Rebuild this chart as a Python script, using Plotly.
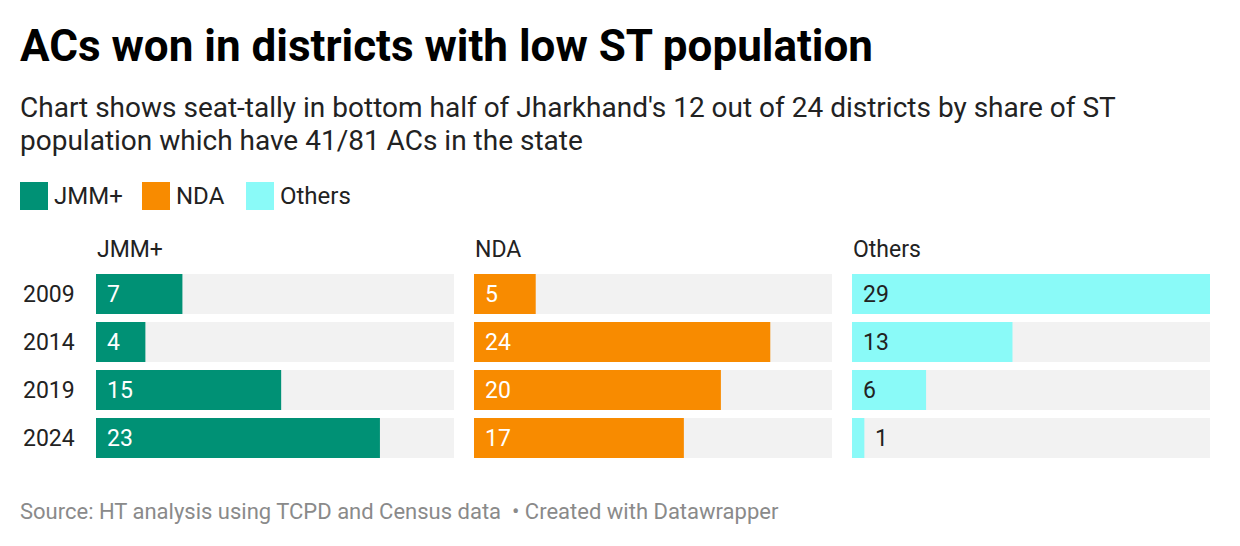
import plotly.graph_objects as go

# ---- data ----
years = ["2009", "2014", "2019", "2024"]
parties = ["JMM+", "NDA", "Others"]
jmm = [7, 4, 15, 23]
nda = [5, 24, 20, 17]
others = [29, 13, 6, 1]
series = [jmm, nda, others]
colors = ["#009175", "#f88b00", "#8afaf8"]
label_colors = ["#ffffff", "#ffffff", "#222222"]

title = "ACs won in districts with low ST population"
subtitle_lines = [
    "Chart shows seat-tally in bottom half of Jharkhand's 12 out of 24 districts by share of ST",
    "population which have 41/81 ACs in the state",
]
footer = "Source: HT analysis using TCPD and Census data  \u2022 Created with Datawrapper"

W, H = 1240, 546
FONT = "Roboto"
vmax = max(max(s) for s in series)
rows = list(range(len(years)))

def px_x(x):
    return x / W

def px_y(y):
    return 1 - y / H

panel_px = [(96, 454), (474, 832), (852, 1210)]
y_top, y_bot = 270, 462

fig = go.Figure()
layout_axes = {}
annotations = []
shapes = []

for i, (name, vals, col, lcol) in enumerate(zip(parties, series, colors, label_colors)):
    xa = "x" if i == 0 else f"x{i+1}"
    xkey = "xaxis" if i == 0 else f"xaxis{i+1}"
    fig.add_trace(go.Bar(
        x=[vmax] * len(years), y=rows, orientation="h",
        marker=dict(color="#f2f2f2", line=dict(width=0)),
        xaxis=xa, yaxis="y", hoverinfo="skip", showlegend=False, width=40 / 48,
    ))
    fig.add_trace(go.Bar(
        x=vals, y=rows, orientation="h", name=name,
        marker=dict(color=col, line=dict(width=0)),
        xaxis=xa, yaxis="y", showlegend=False, width=40 / 48,
        customdata=years, hovertemplate="%{customdata}: %{x}<extra>" + name + "</extra>",
    ))
    x0, x1 = panel_px[i]
    layout_axes[xkey] = dict(
        domain=[px_x(x0), px_x(x1)], range=[0, vmax], visible=False,
        fixedrange=True, anchor="y",
    )
    annotations.append(dict(
        text=name, xref="paper", yref="paper", x=px_x(x0 - 1), y=px_y(250),
        xanchor="left", yanchor="middle", showarrow=False,
        font=dict(family=FONT, size=23, color="#222222"),
    ))
    bar_px = (x1 - x0) / vmax
    for r, v in zip(rows, vals):
        inside = v * bar_px > 30
        annotations.append(dict(
            text=str(v), xref=xa, yref="y",
            x=0 if inside else v, y=r, xshift=9 if inside else 9,
            xanchor="left", yanchor="middle", showarrow=False,
            font=dict(family=FONT, size=23, color=lcol if inside else "#222222"),
        ))

for r, yr in zip(rows, years):
    annotations.append(dict(
        text=yr, xref="paper", yref="y", x=px_x(77), y=r,
        xanchor="right", yanchor="middle", showarrow=False,
        font=dict(family=FONT, size=23, color="#222222"),
    ))

annotations.append(dict(
    text="<b>" + title + "</b>", xref="paper", yref="paper", x=px_x(18), y=px_y(46),
    xanchor="left", yanchor="middle", showarrow=False,
    font=dict(family=FONT, size=44, color="#000000"),
))
for k, line in enumerate(subtitle_lines):
    annotations.append(dict(
        text=line, xref="paper", yref="paper", x=px_x(18), y=px_y(108 + 33 * k),
        xanchor="left", yanchor="middle", showarrow=False,
        font=dict(family=FONT, size=28, color="#222222"),
    ))

leg_x = [20, 142, 246]
for name, col, lx in zip(parties, colors, leg_x):
    shapes.append(dict(
        type="rect", xref="paper", yref="paper",
        x0=px_x(lx), x1=px_x(lx + 28), y0=px_y(210), y1=px_y(182),
        fillcolor=col, line=dict(width=0),
    ))
    annotations.append(dict(
        text=name, xref="paper", yref="paper", x=px_x(lx + 32), y=px_y(196),
        xanchor="left", yanchor="middle", showarrow=False,
        font=dict(family=FONT, size=24, color="#222222"),
    ))

annotations.append(dict(
    text=footer, xref="paper", yref="paper", x=px_x(18), y=px_y(511),
    xanchor="left", yanchor="middle", showarrow=False,
    font=dict(family=FONT, size=22, color="#8a8a8a"),
))

fig.update_layout(
    width=W, height=H,
    margin=dict(l=0, r=0, t=0, b=0),
    paper_bgcolor="white", plot_bgcolor="white",
    barmode="overlay",
    yaxis=dict(
        domain=[px_y(y_bot), px_y(y_top)], range=[len(years) - 0.5, -0.5],
        visible=False, fixedrange=True,
    ),
    annotations=annotations, shapes=shapes,
    showlegend=False,
    **layout_axes,
)

fig.write_html("out.html", config={"displayModeBar": False})
